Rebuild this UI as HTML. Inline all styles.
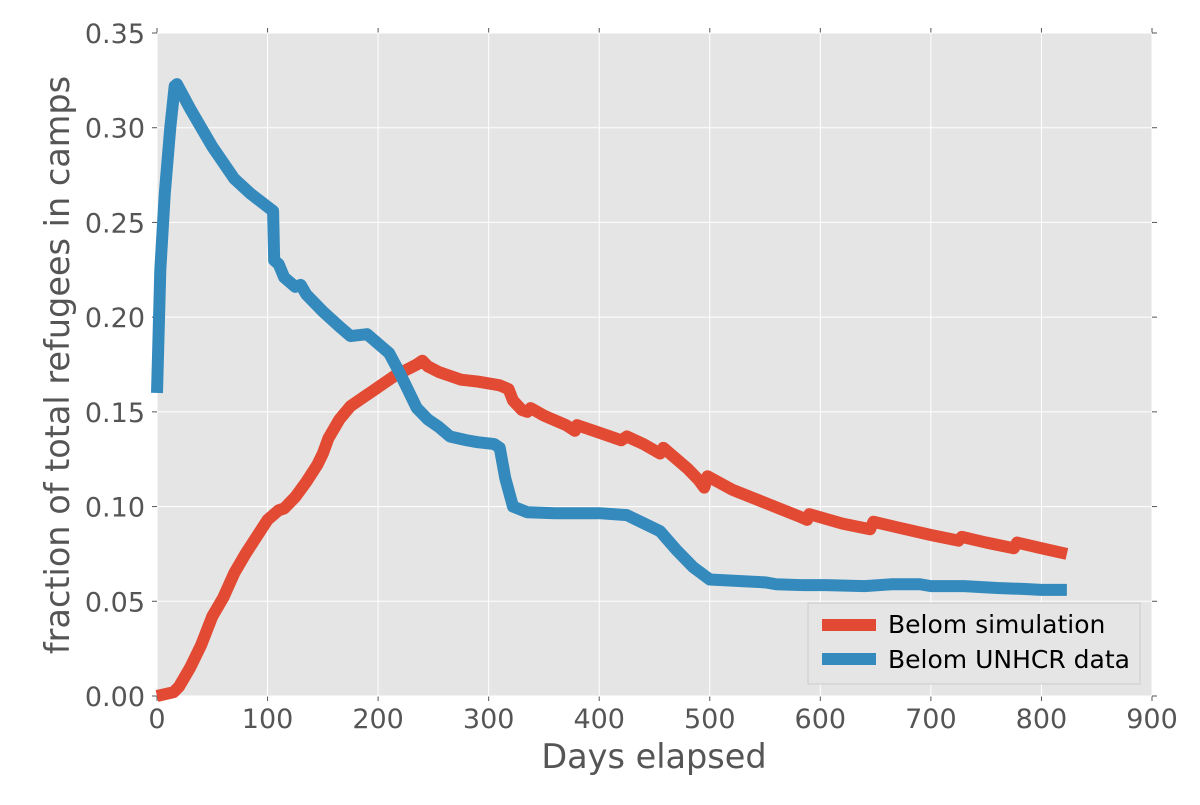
<!DOCTYPE html>
<html><head><meta charset="utf-8"><style>
body{margin:0;background:#fff}
svg text{font-family:"DejaVu Sans","Liberation Sans",sans-serif;fill:#555}
</style></head><body>
<svg id="chart" width="1200" height="800" xmlns="http://www.w3.org/2000/svg">
<rect x="157" y="33" width="995" height="663" fill="#e5e5e5"/>
<g id="grid"></g><g id="ticks"></g><g id="series"></g>
<text x="654" y="768" font-size="33.5" text-anchor="middle">Days elapsed</text>
<text transform="translate(69,365) rotate(-90)" font-size="33.5" text-anchor="middle">fraction of total refugees in camps</text>
<g>
<rect x="808" y="603" width="332" height="81" fill="#e5e5e5" stroke="#ccc"/>
<line x1="822" y1="625" x2="876" y2="625" stroke="#e24a33" stroke-width="12"/>
<text x="888" y="633" font-size="25" style="fill:#000">Belom simulation</text>
<line x1="822" y1="659" x2="876" y2="659" stroke="#348abd" stroke-width="12"/>
<text x="888" y="668" font-size="25" style="fill:#000">Belom UNHCR data</text>
</g>
</svg>
<script>
const xTicks=[0,100,200,300,400,500,600,700,800,900];
const yTicks=[0,0.05,0.10,0.15,0.20,0.25,0.30,0.35];
const unhcrDays=[0,3,7,12,16,18,30,50,70,85,105,106,110,115,125,130,135,150,165,175,190,210,220,235,245,255,265,280,290,305,310,315,322,335,360,400,425,455,470,485,500,550,560,585,605,640,665,690,700,730,760,785,800,823];
const unhcrVals=[0.16,0.225,0.265,0.30,0.322,0.323,0.31,0.29,0.273,0.265,0.256,0.23,0.228,0.221,0.216,0.217,0.212,0.203,0.195,0.190,0.191,0.181,0.170,0.152,0.146,0.142,0.137,0.135,0.134,0.133,0.131,0.115,0.100,0.097,0.0965,0.0965,0.0955,0.087,0.077,0.068,0.0615,0.060,0.059,0.0585,0.0585,0.058,0.059,0.059,0.058,0.058,0.057,0.0565,0.056,0.056];
const simDays=[0,15,20,30,40,50,60,70,80,90,100,110,115,125,135,145,150,155,165,175,185,195,205,215,225,235,240,245,255,265,275,290,300,310,318,322,330,335,338,350,370,378,380,400,420,425,440,455,458,470,480,490,495,498,520,550,580,588,590,620,645,648,670,700,725,728,750,775,778,800,823];
const simVals=[0,0.002,0.005,0.015,0.027,0.042,0.052,0.065,0.075,0.084,0.093,0.098,0.099,0.105,0.113,0.122,0.128,0.136,0.146,0.153,0.157,0.161,0.165,0.169,0.172,0.175,0.177,0.174,0.171,0.169,0.167,0.166,0.165,0.164,0.162,0.156,0.151,0.150,0.152,0.148,0.143,0.140,0.143,0.139,0.135,0.137,0.133,0.128,0.131,0.125,0.120,0.114,0.110,0.116,0.109,0.102,0.095,0.093,0.096,0.091,0.088,0.092,0.089,0.085,0.082,0.084,0.081,0.078,0.081,0.078,0.075];
const X=d=>157+d*995/900, Y=v=>696-v*663/0.35;
const NS="http://www.w3.org/2000/svg";
const g=document.getElementById('grid'),t=document.getElementById('ticks'),s=document.getElementById('series');
function mk(tag,a,p){const e=document.createElementNS(NS,tag);for(const k in a)e.setAttribute(k,a[k]);p.appendChild(e);return e;}
xTicks.forEach(d=>{
 const l=mk('line',{x1:X(d),x2:X(d),y1:33,y2:696,stroke:'#fff','stroke-width':1},g);
 
 
 mk('line',{x1:X(d),x2:X(d),y1:696,y2:701,stroke:'#555','stroke-width':1},g);
 mk('line',{x1:X(d),x2:X(d),y1:28,y2:33,stroke:'#555','stroke-width':1},g);
 const tx=mk('text',{x:X(d),y:728,'font-size':27,'text-anchor':'middle'},t);tx.textContent=d;
 
 
});
yTicks.forEach(v=>{
 const l=mk('line',{x1:157,x2:1152,y1:Y(v),y2:Y(v),stroke:'#fff','stroke-width':1},g);
 
 
 mk('line',{x1:152,x2:157,y1:Y(v),y2:Y(v),stroke:'#555','stroke-width':1},g);
 mk('line',{x1:1152,x2:1157,y1:Y(v),y2:Y(v),stroke:'#555','stroke-width':1},g);
 const tx=mk('text',{x:145,y:Y(v)+10,'font-size':27,'text-anchor':'end'},t);tx.textContent=v.toFixed(2);
 
 
});
function line(ds,vs,c,name){
 const p=mk('polyline',{points:ds.map((d,i)=>X(d)+','+Y(vs[i])).join(' '),fill:'none',stroke:c,'stroke-width':12,'stroke-linejoin':'round'},s);
 
 
}
line(simDays,simVals,'#e24a33','simulation-line');
line(unhcrDays,unhcrVals,'#348abd','unhcr-data-line');
</script>
</body></html>
